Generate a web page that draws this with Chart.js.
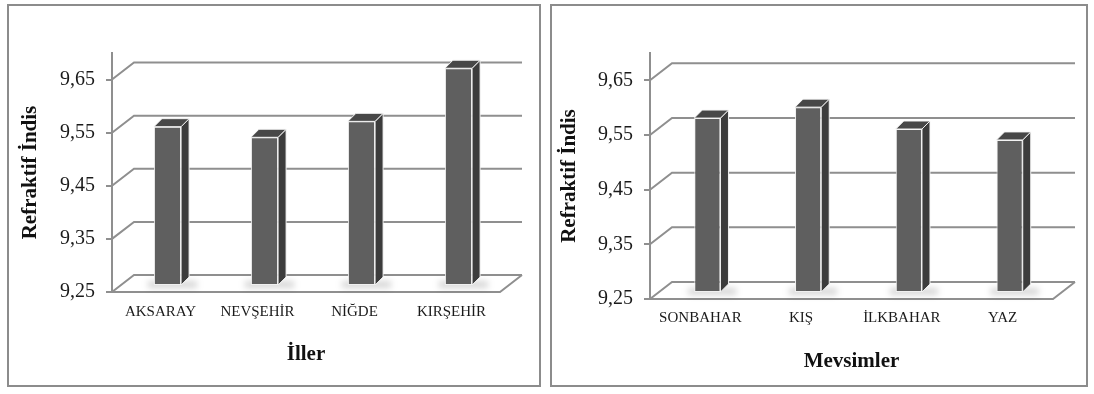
<!DOCTYPE html>
<html>
<head>
<meta charset="utf-8">
<script src="https://cdn.jsdelivr.net/npm/chart.js@4.4.1/dist/chart.umd.min.js"></script>
<style>
  html, body { margin: 0; padding: 0; background: #fff; width: 1094px; height: 394px; overflow: hidden; }
  .panel { position: absolute; top: 4px; height: 383px; border: 2px solid #8c8c8c; box-sizing: border-box; background: #fff; }
  #p1 { left: 7px; width: 534px; }
  #p2 { left: 550px; width: 538px; }
  canvas { display: block; }
</style>
</head>
<body>
<div class="panel" id="p1"><canvas id="c1" width="530" height="379"></canvas></div>
<div class="panel" id="p2"><canvas id="c2" width="534" height="379"></canvas></div>
<script>
// Refractive index by province and by season
const provinces = ['AKSARAY', 'NEVŞEHİR', 'NİĞDE', 'KIRŞEHİR'];
const provinceIndex = [9.55, 9.53, 9.56, 9.66];

const seasons = ['SONBAHAR', 'KIŞ', 'İLKBAHAR', 'YAZ'];
const seasonIndex = [9.57, 9.59, 9.55, 9.53];

const yTicks = [9.25, 9.35, 9.45, 9.55, 9.65];
const yMin = 9.25;
const yMax = 9.70;

const GRID = '#8f8f8f';
const SERIF = "'Liberation Serif', 'Times New Roman', serif";

// column geometry: front face from the element, base clamped to the floor
function columnBox(chart, bar) {
  const { x, y: top, width, base } = bar.getProps(['x', 'y', 'width', 'base'], true);
  const floor = chart.scales.y.getPixelForValue(yMin);
  return { l: x - width / 2, r: x + width / 2, top: top, base: Math.min(base, floor), width: width };
}

// Draws the back walls, floor and the depth faces of the columns
const depthPlugin = {
  id: 'depth3d',
  beforeDatasetsDraw(chart, args, opts) {
    const { ctx, chartArea: a, scales: { y } } = chart;
    const w = opts.wall;
    ctx.save();
    ctx.strokeStyle = GRID;
    ctx.lineWidth = 2;
    yTicks.forEach(v => {
      const py = y.getPixelForValue(v);
      ctx.beginPath();
      ctx.moveTo(a.left, py);
      ctx.lineTo(a.left + w.x, py + w.y);
      ctx.lineTo(a.right + w.x, py + w.y);
      ctx.stroke();
    });
    const fy = y.getPixelForValue(yMin);
    ctx.beginPath();
    ctx.moveTo(a.left, fy);
    ctx.lineTo(a.right, fy);
    ctx.lineTo(a.right + w.x, fy + w.y);
    ctx.stroke();
    ctx.restore();
  },
  beforeDatasetDraw(chart, args, opts) {
    const { ctx } = chart;
    const s = opts.shift, d = opts.depth;
    ctx.save();
    ctx.translate(s.x, s.y);
    // soft floor shadow under each column
    const meta = chart.getDatasetMeta(args.index);
    meta.data.forEach(bar => {
      const c = columnBox(chart, bar);
      ctx.save();
      ctx.filter = 'blur(3px)';
      ctx.fillStyle = 'rgba(0,0,0,0.16)';
      ctx.fillRect(c.l - 6, c.base - 4, c.width + d.x + 14, 7);
      ctx.restore();
    });
  },
  afterDatasetDraw(chart, args, opts) {
    const { ctx } = chart;
    const d = opts.depth;
    const meta = chart.getDatasetMeta(args.index);
    ctx.lineWidth = 1;
    ctx.strokeStyle = 'rgba(245,245,245,0.95)';
    meta.data.forEach(bar => {
      const { l, r, top, base } = columnBox(chart, bar);
      // side face
      ctx.beginPath();
      ctx.moveTo(r, top);
      ctx.lineTo(r + d.x, top + d.y);
      ctx.lineTo(r + d.x, base + d.y);
      ctx.lineTo(r, base);
      ctx.closePath();
      ctx.fillStyle = '#3c3c3c';
      ctx.fill();
      ctx.stroke();
      // top face
      ctx.beginPath();
      ctx.moveTo(l, top);
      ctx.lineTo(l + d.x, top + d.y);
      ctx.lineTo(r + d.x, top + d.y);
      ctx.lineTo(r, top);
      ctx.closePath();
      ctx.fillStyle = '#474747';
      ctx.fill();
      ctx.stroke();
    });
    ctx.restore();
  }
};

function makeChart(canvasId, labels, values, xTitle, g) {
  return new Chart(document.getElementById(canvasId), {
    type: 'bar',
    data: {
      labels: labels,
      datasets: [{
        data: values,
        base: yMin,
        backgroundColor: '#5f5f5f',
        borderColor: 'rgba(240,240,240,0.95)',
        borderWidth: 1,
        borderSkipped: false,
        barPercentage: g.barPct,
        categoryPercentage: 1
      }]
    },
    options: {
      responsive: false,
      animation: false,
      devicePixelRatio: 1,
      layout: { padding: { left: g.padLeft, right: g.padRight, top: g.padTop, bottom: 0 } },
      plugins: {
        legend: { display: false },
        tooltip: { enabled: false },
        depth3d: { wall: { x: 22, y: -17 }, shift: { x: 7, y: -6 }, depth: { x: 8, y: -8 } }
      },
      scales: {
        x: {
          grid: { display: false, drawTicks: false },
          border: { display: false },
          ticks: { color: '#1a1a1a', font: { family: SERIF, size: 15 }, padding: g.labelPad, maxRotation: 0, autoSkip: false },
          title: {
            display: true, text: xTitle, color: '#111',
            font: { family: SERIF, size: 21, weight: 'bold' },
            padding: { top: 0, bottom: g.titlePad }
          },
          afterFit: s => { s.height = g.xHeight; }
        },
        y: {
          min: yMin,
          max: yMax,
          afterBuildTicks: s => { s.ticks = yTicks.map(v => ({ value: v })); },
          ticks: {
            color: '#1a1a1a',
            font: { family: SERIF, size: 20 },
            padding: 11,
            callback: v => Number(v).toFixed(2).replace('.', ',')
          },
          grid: { drawOnChartArea: false, drawTicks: true, tickLength: 6, color: GRID, lineWidth: 2 },
          border: { display: true, color: GRID, width: 2 },
          title: {
            display: true, text: 'Refraktif İndis', color: '#111',
            font: { family: SERIF, size: 21, weight: 'bold' },
            padding: { top: 0, bottom: 0 }
          },
          afterFit: s => { s.width = g.yWidth; }
        }
      }
    },
    plugins: [depthPlugin]
  });
}

makeChart('c1', provinces, provinceIndex, 'İller',
  { padLeft: 9, padRight: 39, padTop: 47, yWidth: 94, xHeight: 93, labelPad: 11, titlePad: 18, barPct: 0.28 });
makeChart('c2', seasons, seasonIndex, 'Mevsimler',
  { padLeft: 5, padRight: 33, padTop: 47, yWidth: 93, xHeight: 86, labelPad: 10, titlePad: 11, barPct: 0.26 });
</script>
</body>
</html>
